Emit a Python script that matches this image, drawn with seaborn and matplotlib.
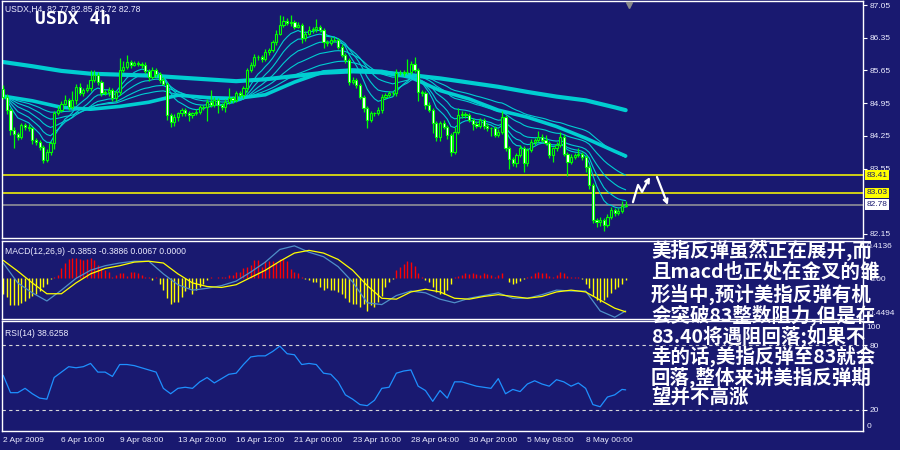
import numpy as np
import pandas as pd
import matplotlib
matplotlib.use('Agg')
import matplotlib.pyplot as plt
import matplotlib.transforms as mtransforms
import seaborn as sns

# ---- 数据 (USDX H4, 2009-04-02 ~ 2009-05-08) ----
first_open = 85.25
close = [
    85.09, 84.80, 84.37, 84.30, 84.23, 84.48, 84.44, 84.41, 84.16, 84.12,
    84.02, 83.73, 83.91, 84.09, 84.73, 84.80, 84.94, 85.02, 84.87, 85.02,
    85.30, 85.16, 85.23, 85.27, 85.44, 85.55, 85.41, 85.16, 85.19, 85.23,
    85.05, 85.19, 85.66, 85.73, 85.84, 85.77, 85.80, 85.79, 85.77, 85.64,
    85.50, 85.66, 85.57, 85.44, 85.37, 84.69, 84.55, 84.66, 84.73, 84.80,
    84.73, 84.69, 84.73, 84.77, 84.86, 84.87, 84.98, 84.91, 85.02, 84.91,
    84.87, 84.98, 85.05, 85.02, 85.16, 85.12, 85.27, 85.66, 85.77, 85.93,
    85.94, 85.89, 86.05, 86.09, 86.26, 86.44, 86.62, 86.71, 86.66, 86.69,
    86.59, 86.62, 86.34, 86.44, 86.51, 86.53, 86.57, 86.51, 86.26, 86.24,
    86.30, 86.31, 86.16, 85.98, 85.87, 85.41, 85.44, 85.34, 85.09, 84.84,
    84.59, 84.73, 84.73, 84.80, 85.09, 85.12, 85.16, 85.16, 85.59, 85.59,
    85.62, 85.62, 85.79, 85.66, 85.19, 85.16, 84.91, 84.80, 84.52, 84.23,
    84.52, 84.44, 84.27, 83.91, 84.34, 84.69, 84.72, 84.69, 84.60, 84.50,
    84.46, 84.59, 84.46, 84.41, 84.41, 84.27, 84.34, 84.66, 83.98, 83.75,
    83.67, 83.84, 84.00, 83.67, 83.94, 84.12, 84.16, 84.23, 84.16, 84.09,
    83.84, 83.98, 84.05, 84.23, 83.87, 83.70, 83.80, 83.84, 83.86, 83.80,
    83.59, 83.20, 82.45, 82.41, 82.45, 82.34, 82.52, 82.67, 82.59, 82.64,
    82.75, 82.78,
]
# 上下影线长度 (点)
wick_up = [
    8, 6, 5, 6, 4, 5, 4, 6, 3, 5, 4, 3, 5, 4, 5, 8, 6, 10, 5, 20,
    6, 8, 4, 10, 22, 12, 6, 4, 5, 6, 4, 5, 25, 12, 15, 4, 6, 5, 4, 6,
    4, 6, 5, 4, 6, 4, 5, 6, 4, 5, 4, 6, 4, 6, 5, 4, 6, 25, 6, 5,
    4, 6, 22, 5, 4, 6, 5, 4, 6, 8, 5, 4, 6, 5, 4, 8, 22, 10, 6, 14,
    5, 6, 4, 6, 10, 5, 18, 6, 5, 4, 6, 5, 4, 6, 4, 5, 6, 4, 5, 4,
    5, 6, 4, 6, 5, 4, 6, 5, 10, 6, 5, 28, 6, 14, 5, 4, 5, 6, 4, 5,
    4, 6, 5, 4, 10, 15, 6, 4, 5, 4, 6, 5, 4, 6, 4, 5, 6, 12, 4, 5,
    4, 5, 6, 4, 5, 6, 5, 12, 6, 10, 5, 4, 6, 10, 5, 4, 6, 5, 14, 4,
    5, 4, 5, 4, 6, 5, 6, 5, 4, 6, 10, 7,
]
wick_dn = [
    5, 8, 10, 30, 6, 4, 6, 5, 8, 6, 8, 6, 4, 6, 12, 4, 5, 4, 6, 5,
    8, 4, 6, 4, 5, 4, 8, 6, 4, 8, 5, 6, 6, 4, 5, 6, 3, 4, 6, 5,
    8, 4, 6, 5, 4, 10, 12, 8, 10, 6, 6, 12, 5, 4, 6, 5, 30, 5, 4, 18,
    6, 10, 4, 6, 5, 4, 6, 8, 5, 4, 6, 5, 4, 6, 5, 6, 4, 5, 4, 5,
    6, 4, 10, 5, 4, 6, 5, 4, 12, 6, 4, 5, 6, 5, 6, 8, 5, 6, 5, 8,
    18, 4, 5, 4, 6, 5, 4, 6, 5, 4, 6, 5, 4, 5, 20, 6, 8, 5, 20, 10,
    8, 5, 8, 10, 5, 4, 5, 6, 5, 12, 5, 4, 6, 5, 16, 4, 5, 4, 6, 22,
    6, 8, 4, 20, 6, 4, 6, 4, 5, 4, 6, 14, 5, 4, 6, 30, 5, 4, 5, 6,
    12, 8, 6, 12, 8, 12, 4, 6, 5, 4, 4, 3,
]
ema_spans = [8, 13, 21, 34, 55]

band_bars = [0, 8, 16, 24, 32, 40, 48, 56, 64, 72, 80, 88, 96, 104, 112, 120,
             128, 136, 144, 152, 160, 168, 171]
slow_band = [85.83, 85.74, 85.64, 85.58, 85.56, 85.54, 85.50, 85.46, 85.42, 85.46,
             85.53, 85.60, 85.63, 85.61, 85.55, 85.48, 85.39, 85.30, 85.19, 85.09,
             85.01, 84.86, 84.80]
mid_band = [85.10, 85.00, 84.86, 84.82, 84.88, 84.97, 85.12, 85.07, 85.05, 85.13,
            85.40, 85.62, 85.66, 85.63, 85.50, 85.22, 85.04, 84.80, 84.65, 84.45,
            84.20, 83.92, 83.82]

resist_levels = [83.41, 83.03]
last_price = 82.78
price_ticks = [87.05, 86.35, 85.65, 84.95, 84.25, 83.55, 82.15]

macd_bars = [0, 4, 8, 12, 16, 20, 24, 28, 32, 36, 40, 44, 48, 52, 56, 60, 64, 68, 72,
             76, 80, 84, 88, 92, 96, 100, 104, 108, 112, 116, 120, 124, 128, 132, 136,
             140, 144, 148, 152, 156, 160, 164, 168, 171]
macd_line = [0.17, -0.05, -0.16, -0.25, -0.13, 0.00, 0.09, 0.14, 0.17, 0.19, 0.19, 0.05,
             -0.07, -0.13, -0.11, -0.08, -0.03, 0.07, 0.18, 0.32, 0.36, 0.29, 0.24, 0.13,
             -0.04, -0.27, -0.29, -0.19, -0.14, -0.16, -0.23, -0.27, -0.22, -0.19, -0.16,
             -0.22, -0.22, -0.18, -0.13, -0.14, -0.14, -0.36, -0.43, -0.36]
signal_line = [0.20, 0.08, -0.05, -0.17, -0.17, -0.05, 0.05, 0.11, 0.14, 0.18, 0.19, 0.17,
               0.05, -0.05, -0.09, -0.10, -0.07, 0.01, 0.09, 0.19, 0.28, 0.31, 0.28, 0.21,
               0.09, -0.08, -0.22, -0.23, -0.15, -0.12, -0.15, -0.22, -0.23, -0.20, -0.18,
               -0.20, -0.22, -0.20, -0.15, -0.13, -0.15, -0.24, -0.33, -0.37]
macd_hist = [
    -.17, -.21, -.30, -.30, -.30, -.27, -.25, -.22, -.19, -.17,
    -.14, -.10, -.06, -.01, .02, .04, .11, .17, .21, .22,
    .22, .21, .20, .21, .22, .20, .15, .11, .09, .07,
    .02, .04, .06, .06, .03, .07, .07, .06, .04, .02,
    .01, -.02, .01, -.06, -.13, -.22, -.28, -.26, -.26, -.21,
    -.14, -.11, -.17, -.13, -.09, -.06, -.02, .01, .00, .01,
    .01, .02, .04, .04, .07, .07, .11, .13, .15, .20,
    .20, .13, .19, .19, .19, .17, .21, .21, .19, .10,
    .07, .06, .02, -.01, -.02, -.04, -.04, -.09, -.13, -.11,
    -.13, -.13, -.15, -.17, -.22, -.26, -.28, -.28, -.32, -.28,
    -.36, -.30, -.32, -.26, -.19, -.09, -.04, -.01, .09, .13,
    .16, .19, .18, .14, .06, .01, -.02, -.04, -.09, -.15,
    -.17, -.17, -.13, -.06, .01, .03, .04, .06, .05, .06,
    .05, .04, .06, .05, .04, .02, .04, .06, .00, -.04,
    -.06, -.05, -.03, -.01, .01, .03, .06, .07, .06, .06,
    .03, .02, .04, .07, .06, .03, .02, .02, .01, -.01,
    -.06, -.11, -.19, -.24, -.26, -.24, -.21, -.16, -.12, -.09,
    -.06, -.02,
]
macd_range = (-0.4494, 0.4136)

rsi_bars = list(range(0, 171, 2)) + [171]
rsi = [52, 36, 36, 40, 35, 31, 30, 50, 55, 60, 59, 60, 63, 55, 55, 51, 62, 62, 61, 59,
       57, 55, 40, 35, 40, 41, 40, 46, 50, 45, 49, 53, 54, 62, 69, 70, 70, 74, 79, 72,
       71, 62, 63, 62, 54, 53, 46, 34, 30, 25, 24, 29, 40, 41, 54, 56, 57, 42, 38, 28,
       38, 31, 46, 46, 44, 42, 41, 40, 49, 35, 39, 37, 44, 47, 44, 42, 48, 46, 42, 45,
       40, 25, 23, 32, 34, 39, 38.6]
rsi_levels = [80, 20]

time_ticks = [0, 16, 32, 48, 64, 80, 96, 112, 128, 144, 160]
time_labels = ['2 Apr 2009', '6 Apr 16:00', '9 Apr 08:00', '13 Apr 20:00', '16 Apr 12:00',
               '21 Apr 00:00', '23 Apr 16:00', '28 Apr 04:00', '30 Apr 20:00',
               '5 May 08:00', '8 May 00:00']

# 预期走势箭头 (bar, price)
arrow_up = [(173.0, 82.83), (174.4, 83.20), (175.5, 83.05), (176.9, 83.26), (177.7, 83.37)]
arrow_down = [(179.6, 83.37), (182.6, 82.77)]

note_lines = ['美指反弹虽然正在展开,而', '且macd也正处在金叉的雏', '形当中,预计美指反弹有机',
              '会突破83整数阻力,但是在', '83.40将遇阻回落;如果不', '幸的话,美指反弹至83就会',
              '回落,整体来讲美指反弹期', '望并不高涨']

# ---- 样式 ----
BG = '#191970'
LIME = '#00ff00'
CYAN = '#00ced1'
YEL = '#ffff00'
LBL = '#ececff'

sns.set_theme(style='dark', rc={'axes.facecolor': BG, 'figure.facecolor': BG,
                                'axes.edgecolor': 'white', 'axes.linewidth': 1.0,
                                'axes.grid': False})
plt.rcParams['font.family'] = ['Liberation Sans', 'DejaVu Sans']

W, H = 900, 450
fig = plt.figure(figsize=(W / 100, H / 100), dpi=100)


def px_box(l, t, r, b):
    return [l / W, 1 - b / H, (r - l) / W, (b - t) / H]


ax = fig.add_axes(px_box(2, 1, 863, 238))
ax_m = fig.add_axes(px_box(2, 241, 863, 319))
ax_r = fig.add_axes(px_box(2, 321, 863, 431))
xlim = (-0.33, 236.2)

# ---- 主图: K线 + 均线 ----
c = np.array(close)
o = np.r_[first_open, c[:-1]]
hi = np.maximum(o, c) + np.array(wick_up) / 100
lo = np.minimum(o, c) - np.array(wick_dn) / 100
x = np.arange(len(c))

for span in ema_spans:
    ema = pd.Series(c).ewm(span=span, adjust=False).mean()
    sns.lineplot(x=x, y=ema.values, ax=ax, color=CYAN, linewidth=0.8, zorder=2)
sns.lineplot(x=band_bars, y=slow_band, ax=ax, color=CYAN, linewidth=3.0, zorder=2)
sns.lineplot(x=band_bars, y=mid_band, ax=ax, color=CYAN, linewidth=2.6, zorder=2)

ax.vlines(x, lo, hi, color=LIME, linewidth=0.9, zorder=3)
bull = c >= o
ax.bar(x[bull], (c - o)[bull], bottom=o[bull], width=0.6, facecolor=BG,
       edgecolor=LIME, linewidth=0.8, zorder=4)
ax.bar(x[~bull], (o - c)[~bull], bottom=c[~bull], width=0.6, facecolor='white',
       edgecolor=LIME, linewidth=0.8, zorder=4)

for lv in resist_levels:
    ax.axhline(lv, color=YEL, linewidth=1.1, zorder=1)
ax.axhline(last_price, color='#9a9a9a', linewidth=1.1, zorder=1)

xs, ys = zip(*arrow_up)
ax.plot(xs[:-1], ys[:-1], color='white', linewidth=1.6, zorder=6)
ax.annotate('', xy=arrow_up[-1], xytext=arrow_up[-2],
            arrowprops=dict(arrowstyle='->', color='white', lw=1.6,
                            shrinkA=0, shrinkB=0, mutation_scale=7), zorder=6)
ax.annotate('', xy=arrow_down[1], xytext=arrow_down[0],
            arrowprops=dict(arrowstyle='->', color='white', lw=1.6,
                            shrinkA=0, shrinkB=0, mutation_scale=7), zorder=6)

ax.set_xlim(*xlim)
ax.set_ylim(82.064, 87.136)
ax.set_xticks([])
ax.yaxis.tick_right()
ax.set_yticks(price_ticks)
ax.set_yticklabels(['%.2f' % p for p in price_ticks])

trans = mtransforms.blended_transform_factory(ax.transAxes, ax.transData)
for lv in resist_levels:
    ax.text(1.004, lv, '%.2f' % lv, transform=trans, ha='left', va='center',
            fontsize=6, color=BG, clip_on=False, zorder=10,
            bbox=dict(boxstyle='square,pad=0.22', fc=YEL, ec='none'))
ax.text(1.004, last_price, '%.2f' % last_price, transform=trans, ha='left',
        va='center', fontsize=6, color=BG, clip_on=False, zorder=10,
        bbox=dict(boxstyle='square,pad=0.22', fc='white', ec='none'))
ax.plot([len(c)], [0.985], marker='v', color='#8a8a8a', markersize=5,
        transform=mtransforms.blended_transform_factory(ax.transData, ax.transAxes),
        clip_on=False, zorder=7)

# ---- MACD ----
hist = np.array(macd_hist)
ax_m.vlines(x, 0, hist, colors=np.where(hist > 0, '#ff0000', YEL), linewidth=1.0)
sns.lineplot(x=macd_bars, y=macd_line, ax=ax_m, color='#4f8fc8', linewidth=0.9)
sns.lineplot(x=macd_bars, y=signal_line, ax=ax_m, color=YEL, linewidth=0.9)
ax_m.set_xlim(*xlim)
ax_m.set_ylim(*macd_range)
ax_m.set_xticks([])
ax_m.yaxis.tick_right()
ax_m.set_yticks([0])
ax_m.set_yticklabels(['0.00'])
for ya, s in [(0.925, '%.4f' % macd_range[1]), (0.075, '%.4f' % macd_range[0])]:
    ax_m.text(1.004, ya, s, transform=ax_m.transAxes, ha='left', va='center',
              fontsize=6, color=LBL, clip_on=False)

# ---- RSI ----
for lv in rsi_levels:
    ax_r.axhline(lv, color='#d8d8d8', linewidth=0.8, linestyle=(0, (3, 3)))
sns.lineplot(x=rsi_bars, y=rsi, ax=ax_r, color='#1e90ff', linewidth=0.9)
ax_r.set_xlim(*xlim)
ax_r.set_ylim(0.6, 102.2)
ax_r.yaxis.tick_right()
ax_r.set_yticks(rsi_levels)
ax_r.set_yticklabels([str(v) for v in rsi_levels])
for ya, s in [(0.945, '100'), (0.045, '0')]:
    ax_r.text(1.004, ya, s, transform=ax_r.transAxes, ha='left', va='center',
              fontsize=6, color=LBL, clip_on=False)
ax_r.set_xticks(time_ticks)
ax_r.set_xticklabels(time_labels)
for lbl in ax_r.get_xticklabels():
    lbl.set_ha('left')

for a in (ax, ax_m, ax_r):
    a.set_xlabel('')
    a.set_ylabel('')
    a.tick_params(axis='both', colors='white', labelcolor=LBL, labelsize=6,
                  length=3, width=0.8, pad=1.5, direction='out')
    for sp in a.spines.values():
        sp.set_color('white')
        sp.set_linewidth(1.0)

# ---- 文字 ----
fig.text(5 / W, 1 - 9 / H, 'USDX,H4  82.77 82.85 82.72 82.78', fontsize=6.2,
         color=LBL, va='center', ha='left')
fig.text(35 / W, 1 - 19.5 / H, 'USDX 4h', family='DejaVu Sans Mono', weight='bold',
         fontsize=13, color='white', va='center', ha='left')
fig.text(5 / W, 1 - 251 / H, 'MACD(12,26,9) -0.3853 -0.3886 0.0067 0.0000',
         fontsize=6.2, color=LBL, va='center', ha='left')
fig.text(5 / W, 1 - 333 / H, 'RSI(14) 38.6258', fontsize=6.2, color=LBL,
         va='center', ha='left')

line_y = [250, 272, 294, 315, 336, 356, 377, 398]
for yc, s in zip(line_y, note_lines):
    fig.text(651 / W, 1 - yc / H, s, fontsize=14, color='white', weight='bold',
             family=['Noto Sans CJK SC', 'DejaVu Sans'], va='center', ha='left',
             zorder=20)

fig.savefig('out.png', dpi=100, facecolor=BG)
